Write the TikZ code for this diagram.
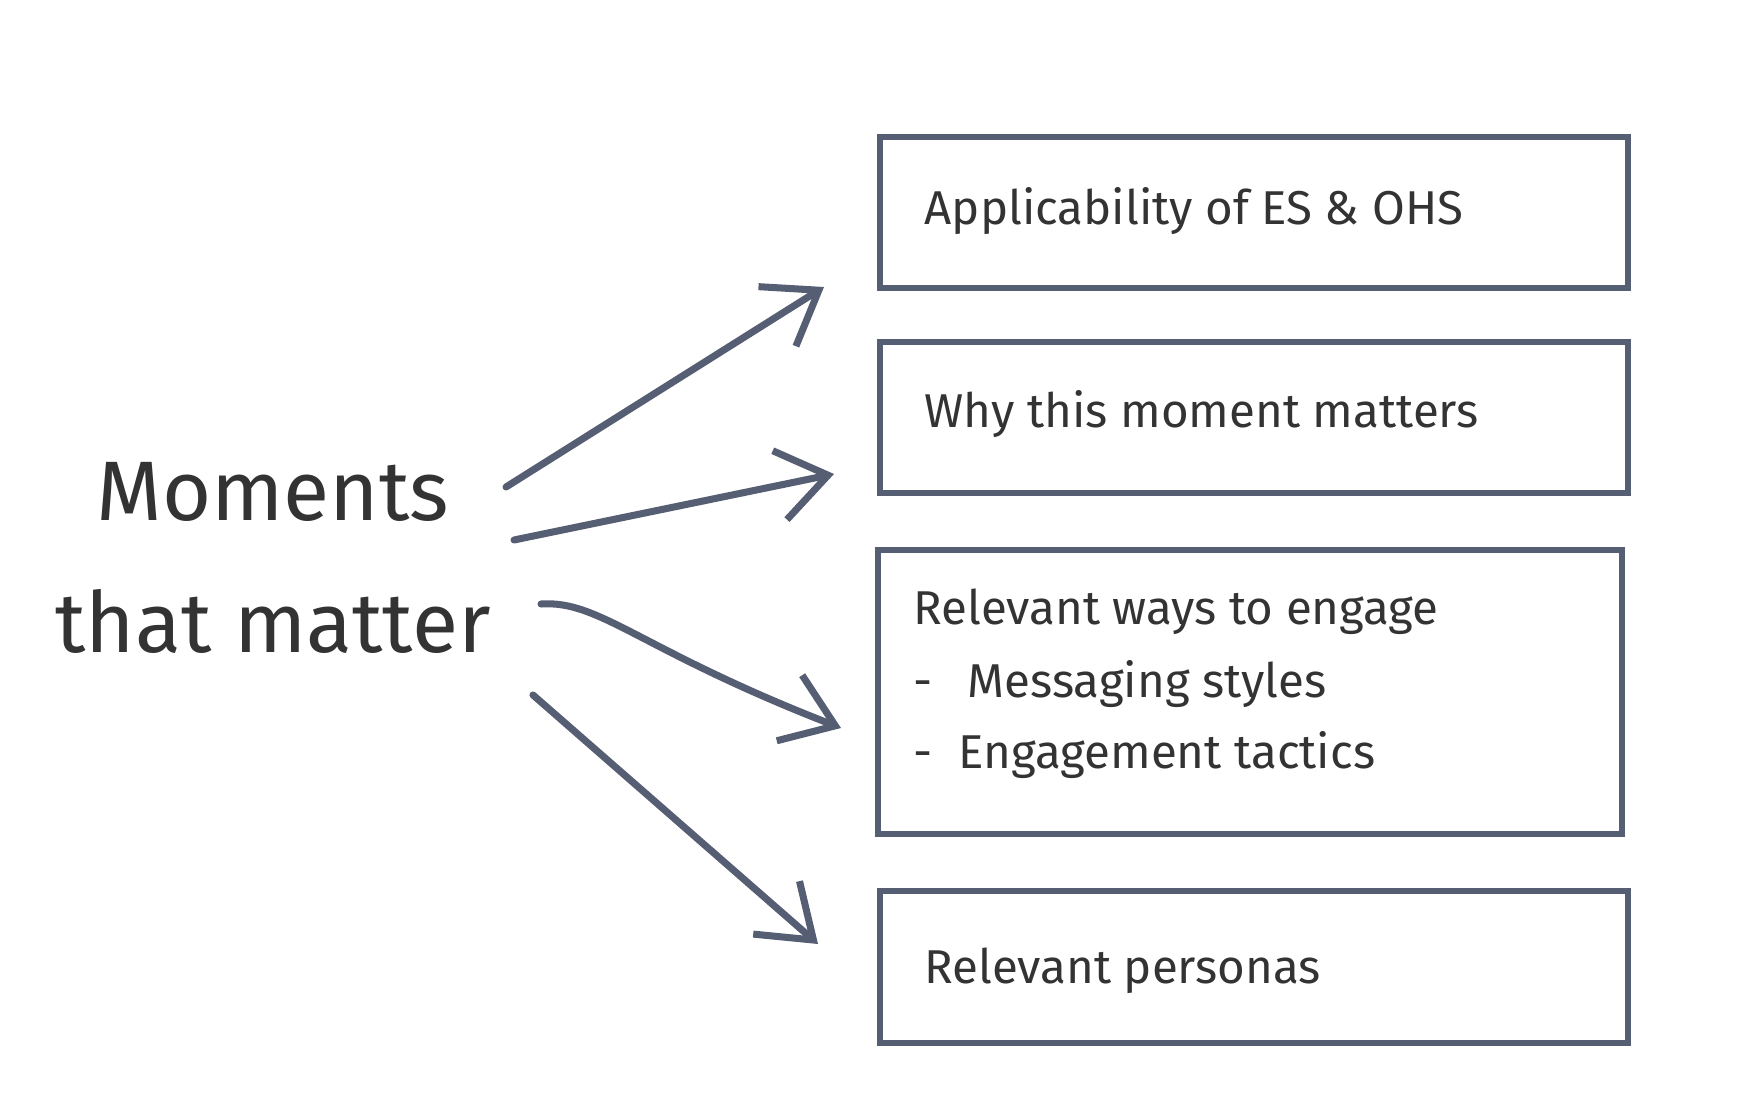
\documentclass[tikz,border=0pt]{standalone}
\usepackage{fontspec}
\setmainfont{Fira Sans}
\usetikzlibrary{arrows.meta}
\definecolor{ln}{HTML}{555E72}
\definecolor{tx}{HTML}{333333}
\begin{document}
\begin{tikzpicture}[x=0.01cm,y=-0.01cm,
 box/.style={draw=ln,line width=1.8pt},
 arr/.style={draw=ln,line width=2pt,line cap=round,-{Straight Barb[length=14pt,width=20pt,line width=2pt]}},
 lbl/.style={text=tx,font=\fontsize{13.5}{16}\selectfont,anchor=base west,inner sep=0pt},
 big/.style={text=tx,font=\fontsize{24}{30}\selectfont,anchor=base,inner sep=0pt}]
\useasboundingbox (0,0) rectangle (1762,1112);
\draw[box] (880,137) rectangle (1628,288);
\draw[box] (880,342) rectangle (1628,493);
\draw[box] (878,550) rectangle (1622,834);
\draw[box] (880,891) rectangle (1628,1043);
\node[lbl] (t1) at (924,225) {Applicability of ES \& OHS};
\node[lbl] (t2) at (924,427) {Why this moment matters};
\node[lbl] (t3) at (913,624) {Relevant ways to engage};
\node[lbl] (t3a) at (913,697) {-};
\node[lbl] (t3b) at (967,697) {Messaging styles};
\node[lbl] (t3c) at (913,768) {-};
\node[lbl] (t3d) at (958,768) {Engagement tactics};
\node[lbl] (t4) at (924,983) {Relevant personas};
\node[big] (m1) at (273,520) {Moments};
\node[big] (m2) at (273,652) {that matter};
\coordinate (s1) at (506,487); \coordinate (e1) at (824,287);
\coordinate (s2) at (514,540); \coordinate (e2) at (834,474);
\coordinate (s3) at (541,604); \coordinate (e3) at (841,728);
\coordinate (s4) at (533,695); \coordinate (e4) at (818,944);
\draw[arr] (s1) -- (e1);
\draw[arr] (s2) -- (e2);
\draw[arr] (s3) .. controls (600,600) and (640,650) .. (e3);
\draw[arr] (s4) -- (e4);
\end{tikzpicture}
\end{document}
